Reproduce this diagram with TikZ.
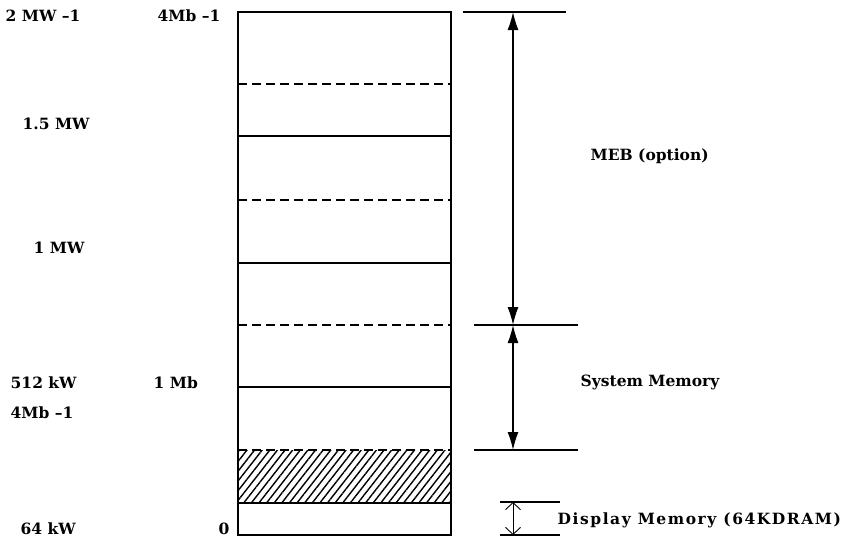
\documentclass[tikz,border=0pt]{standalone}
\usepackage{fontspec}
\setmainfont{DejaVu Serif}
\usetikzlibrary{arrows.meta, patterns.meta}

\begin{document}
\begin{tikzpicture}[x=1pt, y=-1pt, line width=1.4pt,
    lbl/.style={font=\fontsize{15.5}{18}\selectfont\bfseries, inner sep=0pt},
    bigarrow/.style={{Latex[length=18pt,width=11pt]}-{Latex[length=18pt,width=11pt]}, line width=1.3pt},
    smallarrow/.style={{Straight Barb[length=7pt,width=15pt]}-{Straight Barb[length=7pt,width=15pt]}, line width=0.9pt},
    dashline/.style={dash pattern=on 9pt off 5pt}]
    \useasboundingbox (0,0) rectangle (854,542);
    % memory block - hatched region first
    \fill[pattern={Lines[angle=52,distance=6pt,line width=1.4pt]}] (238,450) rectangle (451,503);
    \draw (238,12) rectangle (451,535);
    \draw[dashline] (238,84) -- (451,84);
    \draw (238,136) -- (451,136);
    \draw[dashline] (238,200) -- (451,200);
    \draw (238,263) -- (451,263);
    \draw[dashline] (238,325) -- (451,325);
    \draw (238,387) -- (451,387);
    \draw[dashline] (238,450) -- (451,450);
    \draw (238,503) -- (451,503);
    % limits on the right
    \coordinate (t0) at (513,12);
    \coordinate (t1) at (513,325);
    \coordinate (t2) at (513,450);
    \coordinate (t3) at (513,502);
    \coordinate (t4) at (513,535);
    \draw (463,12) -- (566,12);
    \draw (474,325) -- (578,325);
    \draw (474,450) -- (578,450);
    \draw (500,502) -- (560,502);
    \draw (500,535) -- (560,535);
    \draw[bigarrow] (t0) -- (t1);
    \draw[bigarrow] (t1) -- (t2);
    \draw[smallarrow] (t3) -- (t4);
    % texts
    \node[lbl, anchor=west] (meb) at (590,156) {MEB (option)};
    \node[lbl, anchor=west] (sysmem) at (580,382) {System Memory};
    \node[lbl, anchor=west] (dispmem) at (557,520) {\addfontfeature{LetterSpace=10}Display Memory (64KDRAM)};
    \node[lbl, anchor=west] (a2mw) at (5,16) {2 MW –1};
    \node[lbl, anchor=west] (a4mb) at (157,16) {4Mb –1};
    \node[lbl, anchor=west] (a15mw) at (22,124) {1.5 MW};
    \node[lbl, anchor=west] (a1mw) at (33,248) {1 MW};
    \node[lbl, anchor=west] (a512) at (10,383) {512 kW};
    \node[lbl, anchor=west] (a1mb) at (153,383) {1 Mb};
    \node[lbl, anchor=west] (b4mb) at (10,413) {4Mb –1};
    \node[lbl, anchor=west] (a64) at (20,529) {64 kW};
    \node[lbl, anchor=west] (a0) at (218,529) {0};
\end{tikzpicture}
\end{document}
